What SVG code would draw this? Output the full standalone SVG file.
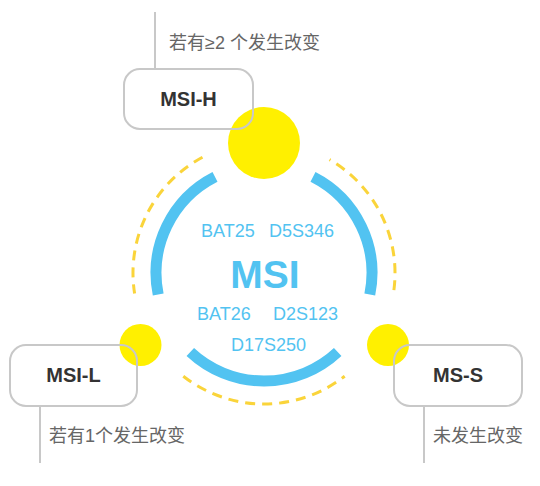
<svg xmlns="http://www.w3.org/2000/svg" width="540" height="486" viewBox="0 0 540 486">
<style>
.ring{fill:none;stroke:#52c3f1;stroke-width:11}
.dash{fill:none;stroke:#fad43a;stroke-width:3;stroke-dasharray:10 7}
.dot{fill:#fff000}
.box{fill:none;stroke:#c8c8c8;stroke-width:2}
.lead{stroke:#c8c8c8;stroke-width:2}
.lbl{font-family:"Liberation Sans",Arial,sans-serif;font-weight:bold;font-size:20px;fill:#333;text-anchor:middle}
.note{font-family:"Liberation Sans","Noto Sans CJK SC",sans-serif;font-size:18px;fill:#666}
.gene{font-family:"Liberation Sans",Arial,sans-serif;font-size:18px;fill:#52c3f1}
.big{font-family:"Liberation Sans",Arial,sans-serif;font-weight:bold;font-size:39px;fill:#52c3f1;text-anchor:middle}
</style>
<rect width="540" height="486" fill="#fff"/>
<g id="connectors">
<path class="ring" d="M 369.8 294.5 A 108 108 0 0 0 313 176.8"/>
<path class="ring" d="M 215 176.8 A 108 108 0 0 0 158.2 294.5"/>
<path class="ring" d="M 190.3 352 A 108 108 0 0 0 337.7 352"/>
<path class="dash" d="M 202.5 157.3 A 131 131 0 0 0 134.6 293.5"/>
<path class="dash" d="M 393.9 290.1 A 131 131 0 0 0 329.5 159.6"/>
<path class="dash" d="M 183.3 376.2 A 131 131 0 0 0 344.7 376.2"/>
<line class="lead" x1="155" y1="12" x2="155" y2="69"/>
<line class="lead" x1="40" y1="406" x2="40" y2="463"/>
<line class="lead" x1="424" y1="406" x2="424" y2="463"/>
</g>
<g id="center">
<text class="gene" x="201" y="237">BAT25</text>
<text class="gene" x="269" y="237">D5S346</text>
<text class="big" x="265" y="288">MSI</text>
<text class="gene" x="197" y="320">BAT26</text>
<text class="gene" x="273" y="320">D2S123</text>
<text class="gene" x="231" y="351">D17S250</text>
</g>
<g id="dots">
<circle class="dot" cx="264" cy="143" r="36"/>
<circle class="dot" cx="140.5" cy="345" r="21"/>
<circle class="dot" cx="388" cy="345" r="21"/>
</g>
<g id="msi-h">
<rect class="box" x="124" y="69" width="129" height="60" rx="16"/>
<text class="lbl" x="188.5" y="106">MSI-H</text>
<text class="note" x="169" y="49">若有≥2 个发生改变</text>
</g>
<g id="msi-l">
<rect class="box" x="10" y="345" width="127" height="61" rx="16"/>
<text class="lbl" x="73.5" y="382">MSI-L</text>
<text class="note" x="49" y="442">若有1个发生改变</text>
</g>
<g id="ms-s">
<rect class="box" x="394" y="345" width="128" height="61" rx="16"/>
<text class="lbl" x="458" y="382">MS-S</text>
<text class="note" x="433" y="442">未发生改变</text>
</g>
</svg>
